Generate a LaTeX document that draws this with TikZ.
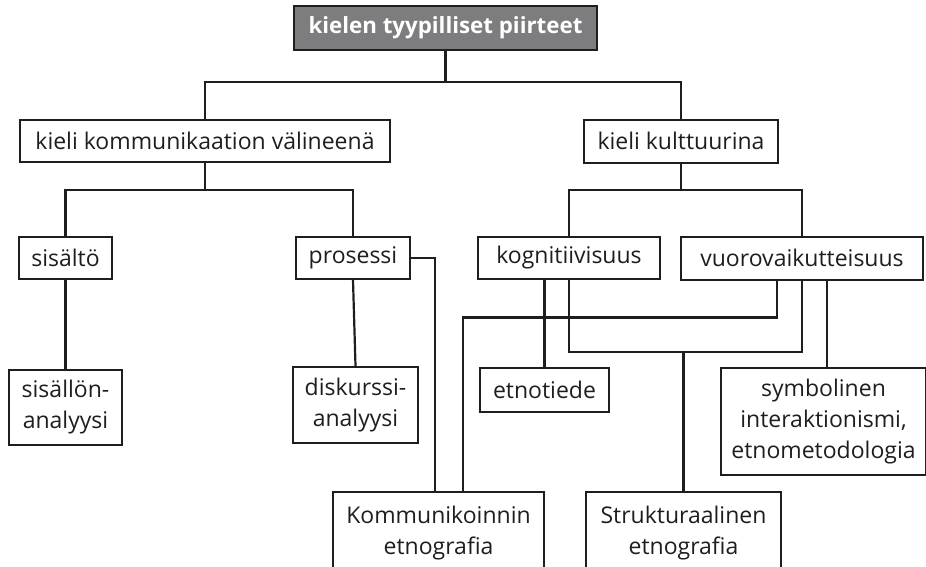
\documentclass[tikz,border=0pt]{standalone}
\usepackage{fontspec}
\setmainfont{Open Sans}
\usetikzlibrary{calc}
\definecolor{ink}{HTML}{1E1E1E}
\definecolor{headfill}{HTML}{7D7D7F}
\begin{document}
\begin{tikzpicture}[x=1pt,y=-1pt,
  every node/.style={font=\fontsize{23}{31}\selectfont, text=ink},
  box/.style={draw=ink, line width=2pt, inner sep=0pt, align=center},
  headbox/.style={box, fill=headfill, text=white, font=\fontsize{22.3}{26}\selectfont\bfseries},
  conn/.style={draw=ink, line width=2.2pt}]
\useasboundingbox (0,0) rectangle (926,566);
\clip (0,0) rectangle (926,566);

% boxes
\node[headbox, minimum width=303, minimum height=44] (top) at (445.5,28) {kielen tyypilliset piirteet};
\node[box, minimum width=370, minimum height=42] (kkv) at (205,141) {kieli kommunikaation välineenä};
\node[box, minimum width=194, minimum height=43] (kk) at (681,141) {kieli kulttuurina};
\node[box, minimum width=93, minimum height=42] (sis) at (65.5,258) {sisältö};
\node[box, minimum width=114, minimum height=42] (pro) at (353,258) {prosessi};
\node[box, minimum width=182, minimum height=42] (kog) at (569,258) {kognitiivisuus};
\node[box, minimum width=242, minimum height=43] (vuo) at (802,258) {vuorovaikutteisuus};
\node[box, minimum width=113, minimum height=75] (sisa) at (65.5,407.5) {sisällön-\\analyysi};
\node[box, minimum width=125, minimum height=76] (disk) at (355.5,405) {diskurssi-\\analyysi};
\node[box, minimum width=129, minimum height=44] (etno) at (544.5,390) {etnotiede};
\node[box, minimum width=205, minimum height=107] (sym) at (823.5,421.5) {symbolinen\\interaktionismi,\\etnometodologia};
\node[box, minimum width=211, minimum height=83] (kom) at (438.5,533.5) {Kommunikoinnin\\etnografia};
\node[box, minimum width=195, minimum height=83] (struk) at (683.5,533.5) {Strukturaalinen\\etnografia};

% first level
\draw[conn] (top.south) -- (top.south |- 0,82);
\draw[conn] (kkv.north) -- (kkv.north |- 0,82) -| (kk.north);

% second level
\draw[conn] (kkv.south) -- (kkv.south |- 0,190);
\draw[conn] (sis.north) -- (sis.north |- 0,190) -| (pro.north);
\draw[conn] (kk.south) -- (kk.south |- 0,190);
\draw[conn] (kog.north) -- (kog.north |- 0,190) -| (vuo.north);

% third level
\draw[conn] (sis.south) -- (sisa.north);
\draw[conn] (pro.south) -- (disk.north);
\draw[conn] (pro.east) -| (kom.north -| 435,0);
\draw[conn] ([xshift=-25pt]vuo.south) -- ++(0,37) -| (kom.north -| 463,0);
\draw[conn] (kog.south) -- ++(0,72) -| (vuo.south);
\draw[conn] (struk.north) -- (struk.north |- 0,351);
\draw[conn] ([xshift=-24.5pt]kog.south) -- ([xshift=-24.5pt]kog.south |- etno.north);
\draw[conn] ([xshift=25pt]vuo.south) -- ([xshift=25pt]vuo.south |- sym.north);
\end{tikzpicture}
\end{document}
